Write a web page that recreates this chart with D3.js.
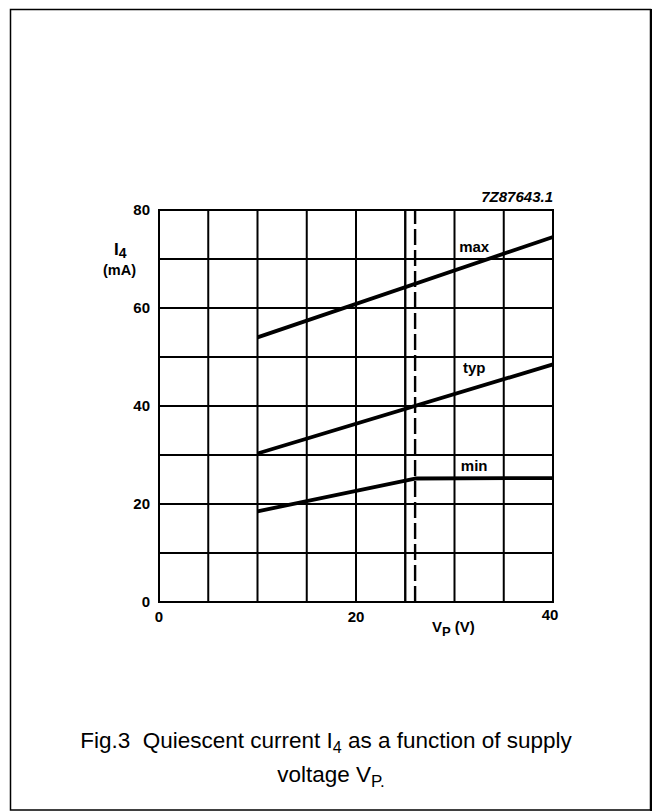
<!DOCTYPE html>
<html><head><meta charset="utf-8">
<script src="https://cdn.jsdelivr.net/npm/d3@7/dist/d3.min.js"></script>
<style>body{margin:0;background:#fff}svg{display:block}</style>
</head><body>
<svg id="c" width="653" height="812"></svg>
<script>
const xTickLabels = [0, 20, 40];
const yTickLabels = [0, 20, 40, 60, 80];
const xGrid = [0, 5, 10, 15, 20, 25, 30, 35, 40];
const yGrid = [0, 10, 20, 30, 40, 50, 60, 70, 80];
const extraSolidV = [25];
const dashedV = [26];
const seriesNames = ["max", "typ", "min"];
const maxV = [10, 40];
const maxI = [54, 74.5];
const typV = [10, 40];
const typI = [30.3, 48.5];
const minV = [10, 26, 40];
const minI = [18.5, 25.2, 25.3];
const labelPos = [[32, 71.4], [32, 46.7], [32, 26.8]];

const svg = d3.select("#c");
const font = "'Liberation Sans', Arial, Helvetica, sans-serif";

// outer frame
svg.append("rect").attr("x", 10.5).attr("y", 9.5).attr("width", 640).attr("height", 800.5)
  .attr("fill", "none").attr("stroke", "#000").attr("stroke-width", 1.5);
svg.append("line").attr("x1", 651).attr("x2", 651).attr("y1", 9).attr("y2", 811)
  .attr("stroke", "#000").attr("stroke-width", 2);

const x = d3.scaleLinear().domain([0, 40]).range([159, 553]);
const y = d3.scaleLinear().domain([0, 80]).range([602, 210]);

const g = svg.append("g");
// grid
g.selectAll(".gx").data(xGrid.concat(extraSolidV)).enter().append("line")
  .attr("x1", d => x(d)).attr("x2", d => x(d)).attr("y1", y(0) + 1).attr("y2", y(80) - 1)
  .attr("stroke", "#000").attr("stroke-width", 2);
g.selectAll(".gy").data(yGrid).enter().append("line")
  .attr("x1", x(0) - 1).attr("x2", x(40) + 1).attr("y1", d => y(d)).attr("y2", d => y(d))
  .attr("stroke", "#000").attr("stroke-width", 2);
// dashed line
g.selectAll(".dv").data(dashedV).enter().append("line")
  .attr("x1", d => x(d)).attr("x2", d => x(d)).attr("y1", y(0)).attr("y2", y(80))
  .attr("stroke", "#000").attr("stroke-width", 2.4).attr("stroke-dasharray", "16,5");

// curves
const line = d3.line().x(d => x(d[0])).y(d => y(d[1]));
const series = [d3.zip(maxV, maxI), d3.zip(typV, typI), d3.zip(minV, minI)];
g.selectAll(".curve").data(series).enter().append("path")
  .attr("d", line).attr("fill", "none").attr("stroke", "#000").attr("stroke-width", 3.8)
  .attr("stroke-linejoin", "round");

// series labels
g.selectAll(".sl").data(seriesNames).enter().append("text")
  .attr("x", (d, i) => x(labelPos[i][0])).attr("y", (d, i) => y(labelPos[i][1]))
  .attr("text-anchor", "middle").attr("font-family", font).attr("font-weight", "bold")
  .attr("font-size", 15).text(d => d);

// y tick labels
g.selectAll(".yt").data(yTickLabels).enter().append("text")
  .attr("x", 150).attr("y", d => y(d) + 5)
  .attr("text-anchor", "end").attr("font-family", font).attr("font-weight", "bold")
  .attr("font-size", 15).text(d => d);
// x tick labels
g.selectAll(".xt").data(xTickLabels).enter().append("text")
  .attr("x", d => x(d) + (d === 40 ? -3 : 0)).attr("y", d => d === 40 ? 620 : 622)
  .attr("text-anchor", "middle").attr("font-family", font).attr("font-weight", "bold")
  .attr("font-size", 15).text(d => d);

// y axis title
const yt = svg.append("text").attr("x", 114).attr("y", 255).attr("font-family", font)
  .attr("font-weight", "bold").attr("font-size", 17);
yt.append("tspan").text("I");
yt.append("tspan").attr("dy", 3).attr("font-size", 14).text("4");
svg.append("text").attr("x", 103).attr("y", 275).attr("font-family", font)
  .attr("font-weight", "bold").attr("font-size", 14.5).text("(mA)");

// x axis title
const xt = svg.append("text").attr("x", 432).attr("y", 632).attr("font-family", font)
  .attr("font-weight", "bold").attr("font-size", 15);
xt.append("tspan").text("V");
xt.append("tspan").attr("dy", 4).attr("font-size", 13).text("P");
xt.append("tspan").attr("dy", -4).text("\u00A0(V)");

// code label
svg.append("text").attr("x", 553).attr("y", 202).attr("text-anchor", "end")
  .attr("font-family", font).attr("font-weight", "bold").attr("font-style", "italic")
  .attr("font-size", 15).text("7Z87643.1");

// caption
const c1 = svg.append("text").attr("x", 326).attr("y", 748).attr("text-anchor", "middle")
  .attr("font-family", font).attr("font-size", 22.5);
c1.append("tspan").text("Fig.3\u00A0\u00A0Quiescent current I");
c1.append("tspan").attr("dy", 5).attr("font-size", 16).text("4");
c1.append("tspan").attr("dy", -5).text(" as a function of supply");
const c2 = svg.append("text").attr("x", 331).attr("y", 782).attr("text-anchor", "middle")
  .attr("font-family", font).attr("font-size", 22.5);
c2.append("tspan").text("voltage V");
c2.append("tspan").attr("dy", 5).attr("font-size", 17).text("P.");
</script>
</body></html>
